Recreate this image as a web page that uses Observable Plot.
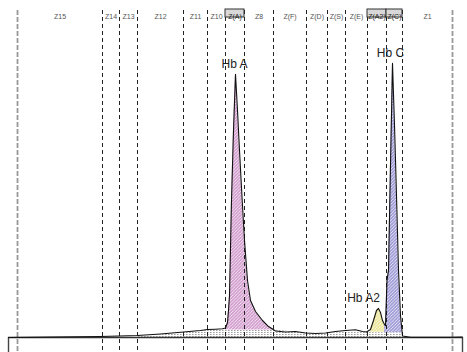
<!DOCTYPE html>
<html>
<head>
<meta charset="utf-8">
<script src="https://cdn.jsdelivr.net/npm/d3@7"></script>
<script src="https://cdn.jsdelivr.net/npm/@observablehq/plot@0.6"></script>
<style>
  html, body { margin: 0; padding: 0; background: #fff; }
  #chart svg { display: block; }
</style>
</head>
<body>
<svg width="0" height="0" style="position:absolute">
  <defs>
    <pattern id="hatchA" patternUnits="userSpaceOnUse" width="3.2" height="3.2">
      <rect width="3.2" height="3.2" fill="#d3a0cf"></rect>
      <path d="M-0.8,0.8 l1.6,-1.6 M0,3.2 l3.2,-3.2 M2.4,4 l1.6,-1.6" stroke="#fff" stroke-width="0.7"></path>
    </pattern>
    <pattern id="hatchA2" patternUnits="userSpaceOnUse" width="3.2" height="3.2">
      <rect width="3.2" height="3.2" fill="#ece79a"></rect>
      <path d="M-0.8,0.8 l1.6,-1.6 M0,3.2 l3.2,-3.2 M2.4,4 l1.6,-1.6" stroke="#fff" stroke-width="0.7"></path>
    </pattern>
    <pattern id="hatchC" patternUnits="userSpaceOnUse" width="3.2" height="3.2">
      <rect width="3.2" height="3.2" fill="#a29ed8"></rect>
      <path d="M-0.8,0.8 l1.6,-1.6 M0,3.2 l3.2,-3.2 M2.4,4 l1.6,-1.6" stroke="#fff" stroke-width="0.7"></path>
    </pattern>
    <pattern id="dots" patternUnits="userSpaceOnUse" width="3" height="2">
      <rect width="3" height="2" fill="#fff"></rect>
      <rect x="0" y="0" width="1.6" height="0.7" fill="#777"></rect>
    </pattern>
  </defs>
</svg>
<div id="chart"></div>
<script>
// Zone boundaries (retention time, min) and zone names
const zoneBounds = [0.09, 0.94, 1.11, 1.29, 1.75, 1.99, 2.17, 2.36, 2.65, 2.98, 3.19, 3.37, 3.59, 3.78, 3.94, 4.44];
const zoneNames = ["Z15", "Z14", "Z13", "Z12", "Z11", "Z10", "Z(A)", "Z8", "Z(F)", "Z(D)", "Z(S)", "Z(E)", "Z(A2)", "Z(C)", "Z1"];
const boxedZones = ["Z(A)", "Z(A2)", "Z(C)"];

// Electropherogram trace
const traceTime = [0.00, 0.42, 0.92, 1.29, 1.52, 1.75, 1.92, 1.99, 2.07, 2.14, 2.17, 2.19, 2.20, 2.21, 2.23, 2.25, 2.27, 2.29, 2.31, 2.337, 2.36, 2.39, 2.42, 2.47, 2.54, 2.60, 2.67, 2.77, 2.87, 2.97, 3.07, 3.17, 3.27, 3.37, 3.47, 3.54, 3.58, 3.62, 3.65, 3.68, 3.70, 3.72, 3.74, 3.76, 3.77, 3.785, 3.80, 3.82, 3.84, 3.86, 3.88, 3.90, 3.92, 3.94, 4.02, 4.44, 4.54];
const traceSignal = [0, 0.18, 0.36, 0.73, 1.28, 2.01, 2.55, 2.92, 3.03, 3.18, 3.47, 5.47, 9.85, 15.3, 50.0, 75.5, 96.0, 82.8, 68.2, 50.0, 35.4, 20.8, 13.5, 9.49, 6.20, 4.01, 2.37, 2.01, 2.19, 1.64, 1.46, 1.64, 2.19, 2.55, 2.81, 2.19, 2.01, 2.92, 6.20, 9.85, 10.6, 9.12, 6.20, 4.74, 4.38, 20.8, 24.5, 62.8, 100, 77.4, 51.8, 24.5, 8.03, 0.55, 0.11, 0.10, 0.18];

// Baseline under the trace
const baseTime = [1.29, 1.75, 1.99, 2.17, 2.64, 2.92, 3.07, 3.17, 3.37, 3.94];
const baseSignal = [0.18, 1.64, 2.55, 2.74, 2.74, 1.80, 1.40, 1.50, 1.80, 1.64];

// Identified peaks
const peakNames = ["Hb A", "Hb A2", "Hb C"];
const peakStart = [2.17, 3.62, 3.76];
const peakEnd = [2.67, 3.77, 3.94];
const peakBase = [2.74, 1.93, 1.7];
const peakFill = ["url(#hatchA)", "url(#hatchA2)", "url(#hatchC)"];
const peakLabelShift = [-1, -15, -2];

const xMax = 4.54;
const yMin = -5.47, yMax = 119.3;

const trace = traceTime.map((t, i) => ({t, v: traceSignal[i]}));
const base = baseTime.map((t, i) => ({t, v: baseSignal[i]}));
const zones = zoneNames.map((name, i) => ({name, x1: zoneBounds[i], x2: zoneBounds[i + 1], xm: (zoneBounds[i] + zoneBounds[i + 1]) / 2, boxed: boxedZones.includes(name)}));
const bounds = zoneBounds.map((t, i) => ({t, outer: i === 0 || i === zoneBounds.length - 1}));

const peakAreas = [];
const peakLabels = [];
peakNames.forEach((name, k) => {
  const pts = trace.filter(d => d.t >= peakStart[k] && d.t <= peakEnd[k]);
  pts.forEach(d => peakAreas.push({peak: name, t: d.t, v1: peakBase[k], v2: Math.max(d.v, peakBase[k])}));
  const apex = pts.reduce((a, b) => (b.v > a.v ? b : a));
  peakLabels.push({name, t: apex.t, v: apex.v});
});

const chart = Plot.plot({
  width: 467,
  height: 352,
  marginLeft: 8,
  marginRight: 5,
  marginTop: 10,
  marginBottom: 0,
  x: {domain: [0, xMax], axis: null},
  y: {domain: [yMin, yMax], axis: null},
  style: {fontFamily: "Liberation Sans, Arial, sans-serif", background: "#fff"},
  marks: [
    // dotted baseline band
    Plot.areaY(base, {x: "t", y1: 0, y2: "v", fill: "url(#dots)", curve: "linear"}),
    // peak fills
    ...peakNames.map((name, k) =>
      Plot.areaY(peakAreas.filter(d => d.peak === name), {x: "t", y1: "v1", y2: "v2", fill: peakFill[k]})
    ),
    // zone boundary lines
    Plot.ruleX(bounds.filter(d => !d.outer), {x: "t", stroke: "#222", strokeWidth: 1, strokeDasharray: "4,3"}),
    Plot.ruleX(bounds.filter(d => d.outer), {x: "t", stroke: "#999", strokeWidth: 1.8, strokeDasharray: "5,2"}),
    // boxed zone labels
    Plot.rect(zones.filter(d => d.boxed), {x1: "x1", x2: "x2", fill: "#d8d8d8", stroke: "#333", strokeWidth: 1, insetTop: -1, insetBottom: 335}),
    Plot.text(zones, {x: "xm", text: "name", frameAnchor: "top", dy: 3.5, fontSize: 7, fill: d => d.boxed ? "#222" : "#555"}),
    // axis frame
    Plot.ruleY([0], {x1: 0, x2: xMax, stroke: "#333", strokeWidth: 1.4}),
    Plot.ruleX([0, xMax], {y1: yMin, y2: 0, stroke: "#444", strokeWidth: 1.4}),
    // trace
    Plot.line(trace, {x: "t", y: "v", stroke: "#111", strokeWidth: 1.1}),
    // peak labels
    ...peakLabels.map((lab, k) =>
      Plot.text([lab], {x: "t", y: "v", text: "name", dy: -10, dx: peakLabelShift[k], fontSize: 12, fill: "#222"})
    )
  ]
});
document.getElementById("chart").appendChild(chart);
</script>
</body>
</html>
